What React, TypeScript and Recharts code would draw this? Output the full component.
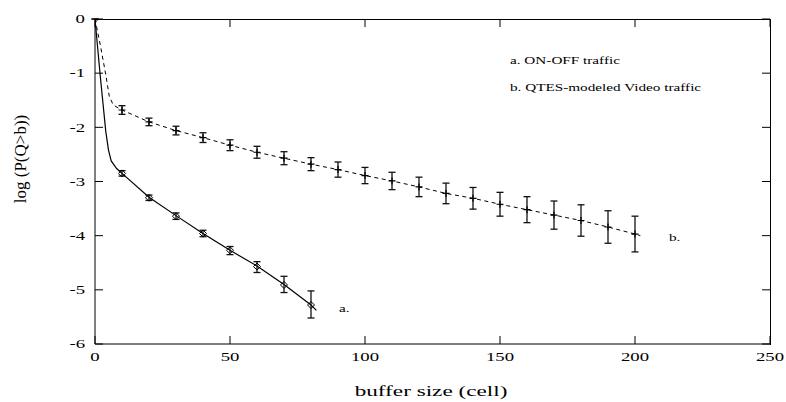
import React from 'react';
import { ComposedChart, Line, Scatter, XAxis, YAxis, ErrorBar, ReferenceLine } from 'recharts';

const FONT = "'Liberation Serif', 'Times New Roman', Times, serif";

// x-axis / y-axis ticks
const xTicks = [0, 50, 100, 150, 200, 250];
const yTicks = [-6, -5, -4, -3, -2, -1, 0];

// a. ON-OFF traffic: model curve (solid)
const aCurveX = [0, 2, 4, 5, 6, 8, 10, 20, 30, 40, 50, 60, 70, 80, 82];
const aCurveY = [0, -1.08, -2.08, -2.42, -2.62, -2.76, -2.85, -3.29, -3.63, -3.96, -4.27, -4.56, -4.9, -5.28, -5.38];

// a. simulation points with error bars
const aPointX = [0, 10, 20, 30, 40, 50, 60, 70, 80];
const aPointY = [0, -2.85, -3.3, -3.64, -3.96, -4.27, -4.57, -4.91, -5.28];
const aErrLow = [0, 0.05, 0.05, 0.06, 0.06, 0.08, 0.11, 0.14, 0.24];
const aErrHigh = [0, 0.05, 0.05, 0.06, 0.06, 0.07, 0.09, 0.16, 0.26];

// b. QTES-modeled video traffic: model curve (dashed)
const bCurveX = [0, 2, 4, 5.3, 6.8, 10, 20, 30, 40, 50, 60, 70, 80, 90, 100, 110, 120, 130, 140, 150, 160, 170, 180, 190, 200, 202];
const bCurveY = [0, -0.49, -1.03, -1.43, -1.59, -1.68, -1.9, -2.06, -2.19, -2.33, -2.46, -2.57, -2.68, -2.78, -2.89, -2.99, -3.1, -3.22, -3.31, -3.42, -3.52, -3.62, -3.72, -3.84, -3.97, -4.0];

// b. simulation points with error bars
const bPointX = [10, 20, 30, 40, 50, 60, 70, 80, 90, 100, 110, 120, 130, 140, 150, 160, 170, 180, 190, 200];
const bPointY = [-1.68, -1.9, -2.06, -2.19, -2.33, -2.46, -2.57, -2.68, -2.78, -2.89, -2.99, -3.1, -3.22, -3.31, -3.42, -3.52, -3.62, -3.72, -3.84, -3.97];
const bErr = [0.08, 0.07, 0.08, 0.09, 0.1, 0.11, 0.12, 0.12, 0.14, 0.15, 0.16, 0.18, 0.19, 0.2, 0.22, 0.24, 0.26, 0.29, 0.3, 0.33];

const legendA = 'a. ON-OFF traffic';
const legendB = 'b. QTES-modeled Video traffic';
const xTitle = 'buffer size (cell)';
const yTitle = 'log (P(Q>b))';

const aCurve = aCurveX.map((x, i) => ({ x, y: aCurveY[i] }));
const bCurve = bCurveX.map((x, i) => ({ x, y: bCurveY[i] }));
const aPoints = aPointX.map((x, i) => ({ x, y: aPointY[i], err: [aErrLow[i], aErrHigh[i]] }));
const bPoints = bPointX.map((x, i) => ({ x, y: bPointY[i], err: [bErr[i], bErr[i]] }));

// layout
const W = 786;
const H = 402;
const M_TOP = 19;
const M_RIGHT = 16;
const Y_AXIS_W = 95;
const X_AXIS_H = 58;

const SX = 1.45;

function SText({ x, y, size, anchor = 'start', sx = SX, children }: any) {
  return (
    <text
      transform={`translate(${x},${y}) scale(${sx},1)`}
      x={0}
      y={0}
      fontSize={size}
      fontFamily={FONT}
      textAnchor={anchor}
      fill="#000"
    >
      {children}
    </text>
  );
}

const TL = 8;

const BottomTick = (p: any) => (
  <g>
    <line x1={p.x} y1={p.y} x2={p.x} y2={p.y - TL} stroke="#000" strokeWidth={1} />
    <SText x={p.x} y={p.y + 17} size={12.5} anchor="middle" sx={1.5}>{String(p.payload.value)}</SText>
  </g>
);
const LeftTick = (p: any) => (
  <g>
    <line x1={p.x} y1={p.y} x2={p.x + TL} y2={p.y} stroke="#000" strokeWidth={1} />
    <SText x={p.x - 10} y={p.y + 4.3} size={12.5} anchor="end" sx={1.5}>{String(p.payload.value)}</SText>
  </g>
);

// top-edge inward tick (ReferenceLine x=...)
const TopTickShape = (p: any) => {
  const x = p.x1;
  const top = Math.min(p.y1, p.y2);
  return <line x1={x} y1={top} x2={x} y2={top + TL} stroke="#000" strokeWidth={1} />;
};
// right-edge inward tick (ReferenceLine y=...)
const RightTickShape = (p: any) => {
  const y = p.y1;
  const right = Math.max(p.x1, p.x2);
  return <line x1={right} y1={y} x2={right - TL} y2={y} stroke="#000" strokeWidth={1} />;
};

const Diamond = (p: any) => {
  const { cx, cy } = p;
  if (cx == null || cy == null) return <g />;
  const s = 3.5;
  return (
    <path
      d={`M${cx - s},${cy}L${cx},${cy - s}L${cx + s},${cy}L${cx},${cy + s}Z`}
      fill="none"
      stroke="#000"
      strokeWidth={1}
    />
  );
};

const Plus = (p: any) => {
  const { cx, cy } = p;
  if (cx == null || cy == null) return <g />;
  const s = 3.5;
  return (
    <path d={`M${cx - s},${cy}L${cx + s},${cy}M${cx},${cy - s}L${cx},${cy + s}`} stroke="#000" strokeWidth={1.2} fill="none" />
  );
};

export default function App() {
  return (
    <div style={{ position: 'absolute', left: 0, top: 0, width: W, height: H, background: '#fff' }}>
      <ComposedChart width={W} height={H} margin={{ top: M_TOP, right: M_RIGHT, bottom: 0, left: 0 }}>
        <XAxis
          dataKey="x"
          type="number"
          domain={[0, 250]}
          ticks={xTicks}
          interval={0}
          height={X_AXIS_H}
          tickSize={0}
          tickMargin={0}
          tickLine={false}
          axisLine={{ stroke: '#000', strokeWidth: 1 }}
          tick={BottomTick}
          allowDataOverflow
        />
        <YAxis
          type="number"
          domain={[-6, 0]}
          ticks={yTicks}
          interval={0}
          width={Y_AXIS_W}
          tickSize={0}
          tickMargin={0}
          tickLine={false}
          axisLine={{ stroke: '#000', strokeWidth: 1 }}
          tick={LeftTick}
          allowDataOverflow
        />

        {xTicks.map((v) => (
          <ReferenceLine key={`tt${v}`} x={v} ifOverflow="visible" shape={TopTickShape} />
        ))}
        {yTicks.map((v) => (
          <ReferenceLine key={`rt${v}`} y={v} ifOverflow="visible" shape={RightTickShape} />
        ))}

        <Line
          data={aCurve}
          dataKey="y"
          type="linear"
          stroke="#000"
          strokeWidth={1.2}
          dot={false}
          activeDot={false}
          isAnimationActive={false}
        />
        <Line
          data={bCurve}
          dataKey="y"
          type="linear"
          stroke="#000"
          strokeWidth={1}
          strokeDasharray="4 3.5"
          dot={false}
          activeDot={false}
          isAnimationActive={false}
        />
        <Scatter data={aPoints} dataKey="y" shape={Diamond} isAnimationActive={false}>
          <ErrorBar dataKey="err" direction="y" width={3.5} stroke="#111" strokeWidth={1.3} isAnimationActive={false} />
        </Scatter>
        <Scatter data={bPoints} dataKey="y" shape={Plus} isAnimationActive={false}>
          <ErrorBar dataKey="err" direction="y" width={3.5} stroke="#111" strokeWidth={1.3} isAnimationActive={false} />
        </Scatter>

        <SText x={510} y={64} size={10.5}>{legendA}</SText>
        <SText x={510} y={91.3} size={10.5}>{legendB}</SText>
        <SText x={339} y={311.5} size={10.5}>a.</SText>
        <SText x={669} y={240.5} size={10.5}>b.</SText>
        <SText x={431} y={396} size={14.5} anchor="middle" sx={1.6}>{xTitle}</SText>
        <text
          transform="translate(26,159) rotate(-90)"
          x={0}
          y={0}
          fontSize={17}
          fontFamily={FONT}
          textAnchor="middle"
          fill="#000"
        >
          {yTitle}
        </text>
      </ComposedChart>
      {/* plot frame: top and right borders as an HTML overlay */}
      <div
        style={{
          position: 'absolute',
          left: Y_AXIS_W,
          top: M_TOP - 0.5,
          width: W - M_RIGHT - Y_AXIS_W - 0.5,
          height: H - X_AXIS_H - M_TOP,
          borderTop: '1px solid #000',
          borderRight: '1px solid #000',
          pointerEvents: 'none',
        }}
      />
    </div>
  );
}
